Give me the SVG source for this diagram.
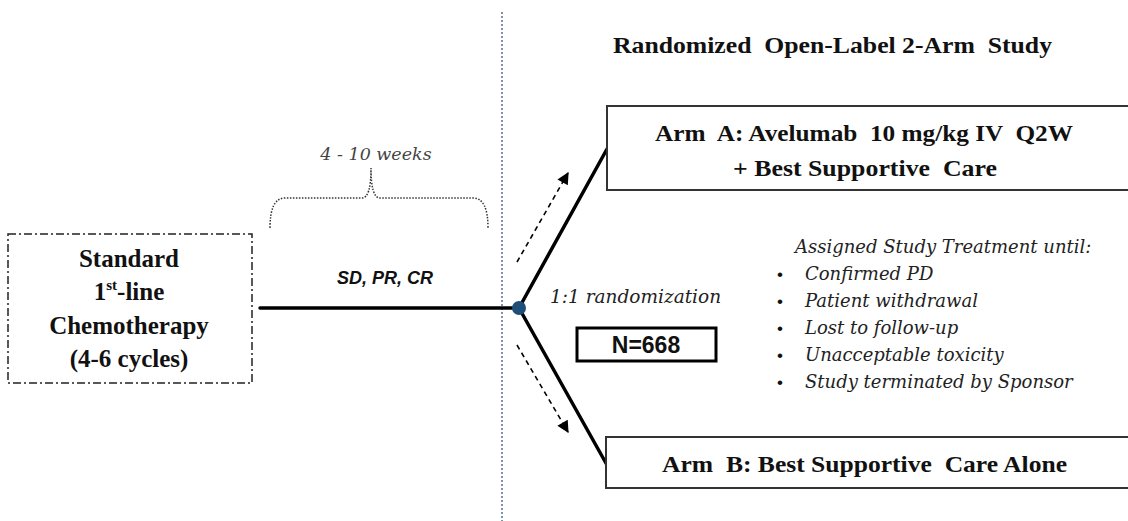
<svg xmlns="http://www.w3.org/2000/svg" width="1128" height="521" viewBox="0 0 1128 521">
<defs>
<style>
.bs{font-family:"Liberation Serif","Times New Roman",serif;font-weight:bold;fill:#111;}
.it{font-family:"DejaVu Serif",serif;font-style:italic;fill:#222;}
.box{fill:#fff;stroke:#333;stroke-width:2;}
.main{stroke:#000;stroke-width:3.5;fill:none;stroke-linecap:round;}
.dash{stroke:#000;stroke-width:1.6;stroke-dasharray:5,4;fill:none;}
</style>
<marker id="ah" viewBox="0 0 10 10" refX="9" refY="5" markerWidth="14" markerHeight="12" markerUnits="userSpaceOnUse" orient="auto">
<path d="M0,0 L10,5 L0,10 z" fill="#000"/>
</marker>
</defs>
<rect width="1128" height="521" fill="#fff"/>
<line x1="502" y1="12" x2="502" y2="521" stroke="#7486a0" stroke-width="1.8" stroke-dasharray="2,2"/>
<text class="bs" x="613" y="53" font-size="23.5" textLength="439" lengthAdjust="spacingAndGlyphs" xml:space="preserve">Randomized  Open-Label 2-Arm  Study</text>
<g id="brace">
<path d="M270,228 Q270,198 285,198 L362,198 Q371,198 371,168 Q371,198 380,198 L473,198 Q488,198 488,228" fill="none" stroke="#333" stroke-width="1.5" stroke-dasharray="1.5,1.5"/>
<text x="376" y="160" font-size="17.5" text-anchor="middle" class="it" style="fill:#444">4 - 10 weeks</text>
</g>
<g id="standard">
<rect x="8" y="234" width="244" height="149" fill="#fff" stroke="#222" stroke-width="1.5" stroke-dasharray="8,3,2,3"/>
<text class="bs" font-size="25" text-anchor="middle"><tspan x="129" y="267">Standard</tspan><tspan x="129" y="300">1<tspan font-size="15" dy="-10">st</tspan><tspan dy="10">-line</tspan></tspan><tspan x="129" y="334">Chemotherapy</tspan><tspan x="129" y="367">(4-6 cycles)</tspan></text>
</g>
<g id="connectors">
<line class="main" x1="260" y1="308" x2="519" y2="308"/>
<line class="main" x1="519" y1="308" x2="607" y2="149"/>
<line class="main" x1="519" y1="308" x2="607" y2="465"/>
<line class="dash" x1="517" y1="262" x2="568" y2="173" marker-end="url(#ah)"/>
<line class="dash" x1="517" y1="345" x2="568" y2="432" marker-end="url(#ah)"/>
<text x="385" y="284" font-family="Liberation Sans,Arial,sans-serif" font-weight="bold" font-style="italic" font-size="18" text-anchor="middle" fill="#111">SD, PR, CR</text>
<text class="it" x="550" y="303" font-size="18.5">1:1 randomization</text>
</g>
<g id="split">
<circle cx="519" cy="308" r="7" fill="#1f4e79"/>
</g>
<g id="armA">
<rect class="box" x="607" y="106" width="530" height="84"/>
<text class="bs" font-size="24" xml:space="preserve"><tspan x="655" y="141" textLength="418" lengthAdjust="spacingAndGlyphs">Arm  A: Avelumab  10 mg/kg IV  Q2W</tspan><tspan x="733" y="176" textLength="264" lengthAdjust="spacingAndGlyphs">+ Best Supportive  Care</tspan></text>
</g>
<g id="armB">
<rect class="box" x="606" y="437" width="530" height="51"/>
<text class="bs" font-size="24" x="662" y="472" textLength="405" lengthAdjust="spacingAndGlyphs" xml:space="preserve">Arm  B: Best Supportive  Care Alone</text>
</g>
<g id="n">
<rect x="577" y="328" width="139" height="33" fill="#fff" stroke="#000" stroke-width="3"/>
<text x="646" y="353" font-family="Liberation Sans,Arial,sans-serif" font-weight="bold" font-size="23" text-anchor="middle" fill="#111">N=668</text>
</g>
<g id="criteria">
<text class="it" font-size="18"><tspan x="795" y="253">Assigned Study Treatment until:</tspan></text>
<text font-family="Liberation Sans,Arial,sans-serif" font-size="17" fill="#111"><tspan x="777" y="280">•</tspan><tspan x="777" y="307">•</tspan><tspan x="777" y="334">•</tspan><tspan x="777" y="361">•</tspan><tspan x="777" y="388">•</tspan></text>
<text class="it" font-size="18"><tspan x="805" y="280">Confirmed PD</tspan><tspan x="805" y="307">Patient withdrawal</tspan><tspan x="805" y="334">Lost to follow-up</tspan><tspan x="805" y="361">Unacceptable toxicity</tspan><tspan x="805" y="388">Study terminated by Sponsor</tspan></text>
</g>
</svg>
